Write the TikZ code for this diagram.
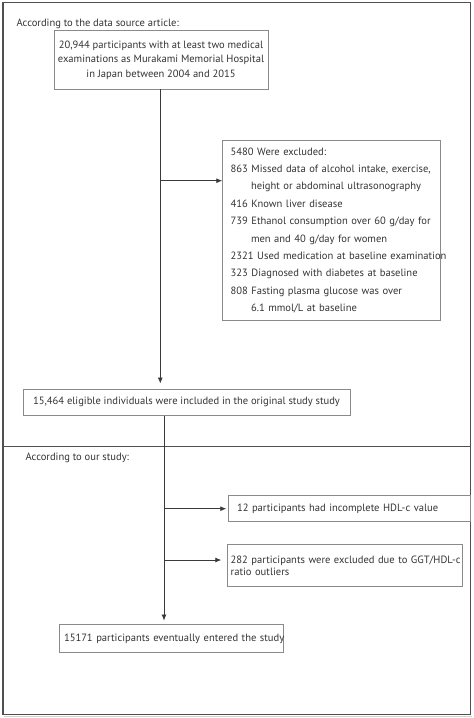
\documentclass[tikz,border=0pt]{standalone}
\usepackage{fontspec}
\setmainfont{PT Sans}
\usetikzlibrary{arrows.meta}
\definecolor{txt}{HTML}{333333}
\definecolor{boxc}{HTML}{8A8A8A}
\definecolor{framec}{HTML}{505050}
\definecolor{linec}{HTML}{3A3A3A}
\begin{document}
\begin{tikzpicture}[x=1pt,y=-1pt,
  box/.style={draw=boxc, line width=0.9pt, text=txt, inner sep=0pt, font=\fontsize{10.55}{14.5}\selectfont},
  lbl/.style={text=txt, inner sep=0pt, anchor=west, font=\fontsize{10.55}{14.5}\selectfont},
  conn/.style={draw=linec, line width=0.8pt},
  arr/.style={conn, -{Latex[length=6pt,width=5pt]}},
]
\useasboundingbox (0,0) rectangle (474,718);
\fill[white] (0,0) rectangle (474,718);
\draw[gray!35, line width=1.5pt] (3.5,716.4) -- (471.5,716.4);
\draw[framec, line width=1.3pt] (3,2.7) rectangle (470.7,714.7);
\draw[framec, line width=1pt] (3,446) -- (470.7,446);

\node[lbl] (t1) at (16.5,24) {According to the data source article:};
\node[lbl] (t2) at (25.5,458) {According to our study:};

\node[box, minimum width=214pt, minimum height=58.3pt, align=center] (b1) at (161,59.85)
  {20,944 participants with at least two medical\\examinations as Murakami Memorial Hospital\\in Japan between 2004 and 2015};

\node[box, minimum width=218pt, minimum height=179.3pt, text width=202pt, align=left,
  font=\fontsize{10.55}{17.4}\selectfont] (b2) at (331.7,230.35)
  {\mbox{5480 Were excluded:}\\
   \mbox{863 Missed data of alcohol intake, exercise,}\\
   \mbox{\hspace*{20.3pt}height or abdominal ultrasonography}\\
   \mbox{416 Known liver disease}\\
   \mbox{739 Ethanol consumption over 60 g/day for}\\
   \mbox{\hspace*{20.3pt}men and 40 g/day for women}\\
   \mbox{2321 Used medication at baseline examination}\\
   \mbox{323 Diagnosed with diabetes at baseline}\\
   \mbox{808 Fasting plasma glucose was over}\\
   \mbox{\hspace*{20.3pt}6.1 mmol/L at baseline}};

\node[box, minimum width=327pt, minimum height=26.5pt] (b3) at (186.5,402.25)
  {15,464 eligible individuals were included in the original study study};

\node[box, minimum width=242.5pt, minimum height=26pt, text width=224.5pt, align=left] (b5) at (349.25,508.7)
  {12 participants had incomplete HDL-c value};

\node[box, minimum width=234.6pt, minimum height=42.4pt, text width=228.6pt, align=left,
  font=\fontsize{10.55}{11.8}\selectfont] (b6) at (345,565.5)
  {\mbox{282 participants were excluded due to GGT/HDL-c}\\ratio outliers};

\node[box, minimum width=224pt, minimum height=28pt, text width=214pt, align=left] (b4) at (171,638.5)
  {\mbox{15171 participants eventually entered the study}};

\coordinate (j1) at (160.3,180.7);
\coordinate (s2) at (164,0);
\coordinate (j3) at (164,560);

\draw[arr, shorten >=5pt] (b1.south -| j1) -- (j1 |- b3.north);
\draw[arr] (j1) -- (j1 -| b2.west);
\draw[arr, shorten >=3.5pt] (s2 |- b3.south) -- (s2 |- b4.north);
\draw[arr, shorten >=1.3pt] (s2 |- b5.west) -- (b5.west);
\draw[arr, shorten >=6pt] (j3) -- (j3 -| b6.west);
\end{tikzpicture}
\end{document}
